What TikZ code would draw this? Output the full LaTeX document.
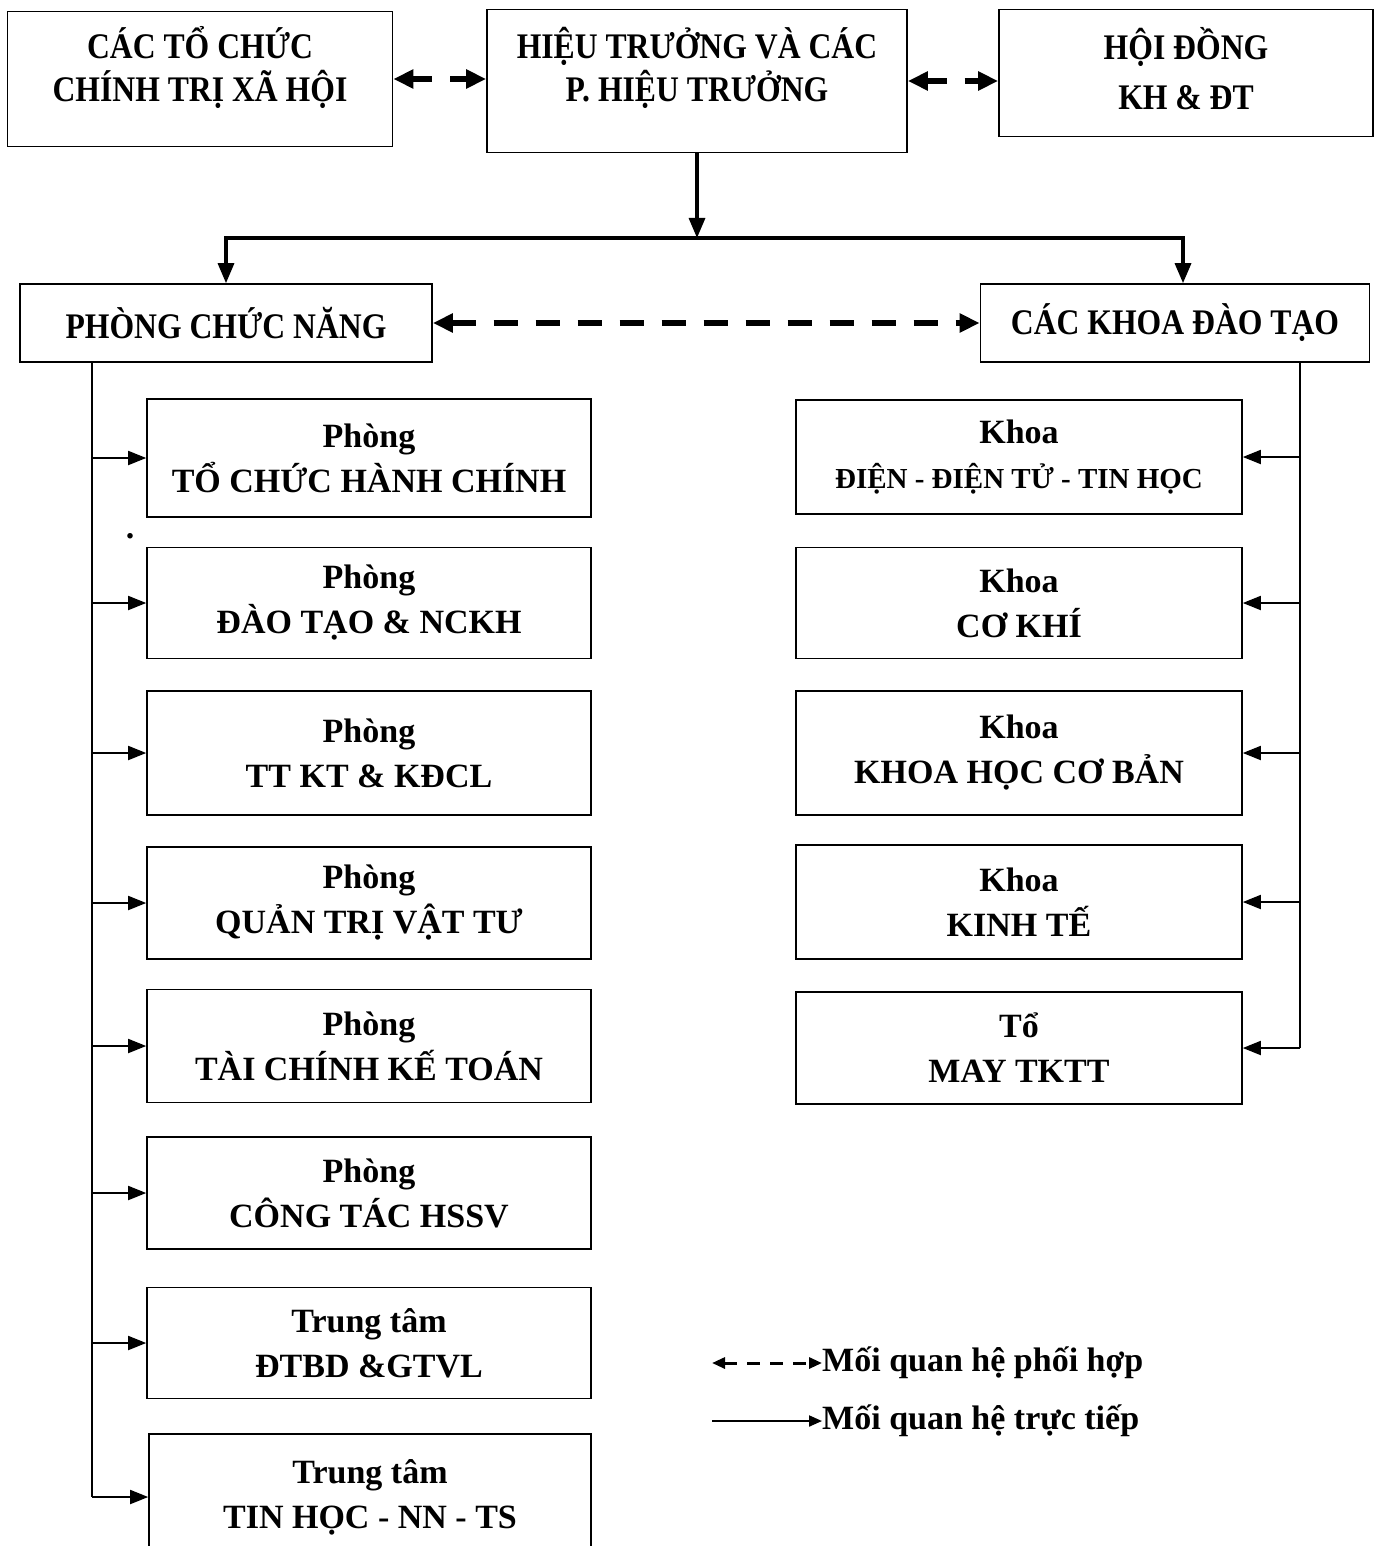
\documentclass[tikz,border=0pt]{standalone}
\usepackage{fontspec}
\setmainfont{Liberation Serif}
\newfontfamily\hepfont[FakeStretch=0.88]{Liberation Serif}
\usetikzlibrary{arrows.meta}

\begin{document}
\begin{tikzpicture}[x=1pt, y=-1pt,
    hop/.style={draw, line width=1.6pt, align=center, inner sep=0pt,
        font=\bfseries\fontsize{34}{45}\selectfont},
    hoplon/.style={hop, font=\hepfont\bfseries\fontsize{36}{43}\selectfont},
    chulon/.style={align=center, inner sep=0pt,
        font=\hepfont\bfseries\fontsize{36}{43}\selectfont},
    noi/.style={line width=1.8pt, -{Triangle[length=18pt,width=14pt]}},
    chinh/.style={line width=3.2pt, -{Triangle[length=20pt,width=16pt]}},
    phoihop/.style={line width=6pt, dash pattern=on 24pt off 18pt,
        {Triangle[length=20pt,width=18pt]}-{Triangle[length=20pt,width=18pt]}},
    phoihopngan/.style={phoihop, dash pattern=on 20pt off 18pt}]
    \path[fill=white, use as bounding box] (0,0) rectangle (1379,1546);

    % Hang tren
    \node[hop, minimum width=385pt, minimum height=135pt] (tcct) at (200,79) {};
    \node[chulon] (tcct chu) at (200,68) {CÁC TỔ CHỨC\\CHÍNH TRỊ XÃ HỘI};
    \node[hop, minimum width=420pt, minimum height=143pt] (ht) at (697,81) {};
    \node[chulon] (ht chu) at (697,68) {HIỆU TRƯỞNG VÀ CÁC\\P. HIỆU TRƯỞNG};
    \node[hop, minimum width=374pt, minimum height=127pt] (hd) at (1186,73) {};
    \node[chulon, font=\hepfont\bfseries\fontsize{36}{50}\selectfont] (hd chu) at (1186,69) {HỘI ĐỒNG\\KH \& ĐT};

    % Hang thu hai
    \node[hoplon, minimum width=412pt, minimum height=78pt] (pcn) at (226,323) {PHÒNG CHỨC NĂNG};
    \node[hoplon, minimum width=389pt, minimum height=78pt] (kdt) at (1175,323) {CÁC KHOA ĐÀO TẠO};

    % Cac phong chuc nang
    \node[hop, minimum width=444pt, minimum height=118pt] (p1) at (369,458) {Phòng\\TỔ CHỨC HÀNH CHÍNH};
    \node[hop, minimum width=444pt, minimum height=111pt] (p2) at (369,603) {Phòng\\ĐÀO TẠO \& NCKH};
    \node[hop, minimum width=444pt, minimum height=124pt] (p3) at (369,753) {Phòng\\TT KT \& KĐCL};
    \node[hop, minimum width=444pt, minimum height=112pt] (p4) at (369,903) {Phòng\\QUẢN TRỊ VẬT TƯ};
    \node[hop, minimum width=444pt, minimum height=113pt] (p5) at (369,1046) {Phòng\\TÀI CHÍNH KẾ TOÁN};
    \node[hop, minimum width=444pt, minimum height=112pt] (p6) at (369,1193) {Phòng\\CÔNG TÁC HSSV};
    \node[hop, minimum width=444pt, minimum height=111pt] (p7) at (369,1343) {Trung tâm\\ĐTBD \&GTVL};
    \node[hop, minimum width=442pt, minimum height=126pt] (p8) at (370,1497) {Trung tâm\\TIN HỌC - NN - TS};
    \node[font=\bfseries\fontsize{34}{40}\selectfont, inner sep=0pt] (cham) at (130,536) {.};

    % Cac khoa dao tao
    \node[hop, minimum width=446pt, minimum height=114pt] (k1) at (1019,457)
        {Khoa\\{\fontsize{29}{45}\selectfont ĐIỆN - ĐIỆN TỬ - TIN HỌC}};
    \node[hop, minimum width=446pt, minimum height=111pt] (k2) at (1019,603) {Khoa\\CƠ KHÍ};
    \node[hop, minimum width=446pt, minimum height=124pt] (k3) at (1019,753) {Khoa\\KHOA HỌC CƠ BẢN};
    \node[hop, minimum width=446pt, minimum height=114pt] (k4) at (1019,902) {Khoa\\KINH TẾ};
    \node[hop, minimum width=446pt, minimum height=112pt] (k5) at (1019,1048) {Tổ\\MAY TKTT};

    % Quan he truc tiep
    \coordinate (nga ba) at (ht.south |- 0,238);
    \draw[chinh] (ht.south) -- (nga ba);
    \draw[chinh] (nga ba) -| (pcn.north);
    \draw[chinh] (nga ba) -| ([xshift=8pt]kdt.north);

    \coordinate (truc trai) at (92,0);
    \draw[line width=1.8pt] (pcn.south -| truc trai) -- (p8.west -| truc trai);
    \foreach \i in {1,...,8} \draw[noi] (p\i.west -| truc trai) -- (p\i.west);

    \coordinate (truc phai) at (1300,0);
    \draw[line width=1.8pt] (kdt.south -| truc phai) -- (k5.east -| truc phai);
    \foreach \i in {1,...,5} \draw[noi] (k\i.east -| truc phai) -- (k\i.east);

    % Quan he phoi hop
    \draw[phoihopngan] (tcct.east) -- (tcct.east -| ht.west);
    \draw[phoihopngan] (ht.east) -- (ht.east -| hd.west);
    \draw[phoihop] (pcn.east) -- (kdt.west);

    % Chu thich
    \coordinate (cg1) at (712,1363);
    \node[font=\bfseries\fontsize{34}{40}\selectfont, anchor=west, inner sep=0pt] (cg1 chu) at (822,1363) {Mối quan hệ phối hợp};
    \draw[line width=3pt, dash pattern=on 13pt off 10pt,
        {Triangle[length=13pt,width=11pt]}-{Triangle[length=13pt,width=11pt]}] (cg1) -- (cg1 chu.west);
    \coordinate (cg2) at (712,1421);
    \node[font=\bfseries\fontsize{34}{40}\selectfont, anchor=west, inner sep=0pt] (cg2 chu) at (822,1421) {Mối quan hệ trực tiếp};
    \draw[line width=2pt, -{Triangle[length=13pt,width=11pt]}] (cg2) -- (cg2 chu.west);
\end{tikzpicture}
\end{document}
